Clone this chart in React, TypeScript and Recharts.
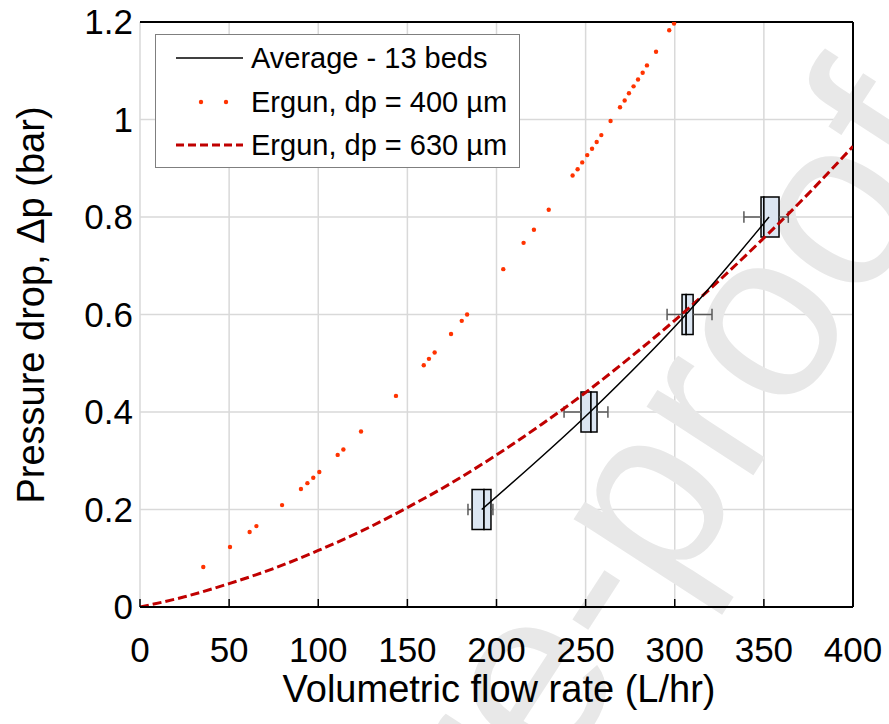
import React from 'react';
import {
  ComposedChart, Line, Scatter, XAxis, YAxis, CartesianGrid, ReferenceArea,
  ReferenceLine, Customized,
} from 'recharts';

const xTicks = [0, 50, 100, 150, 200, 250, 300, 350, 400];
const yTicks = [0, 0.2, 0.4, 0.6, 0.8, 1, 1.2];

// Average - 13 beds
const avgFlow = [191.7, 252.5, 306.3, 352.9];
const avgDp = [0.2, 0.4, 0.6, 0.8];

// Ergun, dp = 400 µm (dotted)
const e400Flow = [35.5, 50.5, 61.5, 65.3, 79.7, 90.3, 93.9, 97.2, 100.6, 110.9, 114.1, 124.0, 143.6, 159.2, 162.1, 165.3, 174.5, 180.5, 183.5, 203.8, 215.2, 221.0, 229.3, 242.7, 245.5, 248.1, 250.9, 253.6, 256.2, 258.8, 264.0, 269.3, 271.9, 274.3, 276.9, 279.4, 282.0, 284.4, 289.5, 296.9, 299.6];
const e400Dp = [0.082, 0.123, 0.154, 0.166, 0.209, 0.242, 0.254, 0.265, 0.277, 0.312, 0.323, 0.360, 0.433, 0.496, 0.509, 0.522, 0.560, 0.587, 0.600, 0.693, 0.747, 0.774, 0.815, 0.885, 0.898, 0.912, 0.927, 0.940, 0.954, 0.968, 0.997, 1.025, 1.039, 1.054, 1.068, 1.082, 1.096, 1.111, 1.139, 1.183, 1.197];

// Ergun, dp = 630 µm (dashed)
const e630Flow = [0, 25, 50, 75, 100, 125, 150, 175, 200, 225, 250, 275, 300, 325, 350, 375, 400];
const e630Dp = [0, 0.021, 0.048, 0.079, 0.116, 0.157, 0.204, 0.255, 0.312, 0.374, 0.44, 0.512, 0.588, 0.67, 0.757, 0.848, 0.945];

// Box-and-whisker of flow rate at each pressure drop
const boxDp = [0.2, 0.4, 0.6, 0.8];
const boxMin = [184.0, 237.9, 295.7, 338.8];
const boxQ1 = [186.3, 247.4, 304.1, 348.4];
const boxMed = [193.0, 253.0, 306.4, 350.0];
const boxQ3 = [196.9, 256.4, 310.3, 358.5];
const boxMax = [198.0, 262.5, 320.9, 363.7];
const boxHalf = 0.041;
const capHalf = 0.012;

const legendLabels = ['Average - 13 beds', 'Ergun, dp = 400 µm', 'Ergun, dp = 630 µm'];

const avgData = avgFlow.map((x, i) => ({ x, y: avgDp[i] }));
const e400Data = e400Flow.map((x, i) => ({ x, y: e400Dp[i] }));
const e630Data = e630Flow.map((x, i) => ({ x, y: e630Dp[i] }));

const FONT = 'Liberation Sans, Arial, sans-serif';
const DOT = '#ff3300';
const DASH = '#c00000';
const BOXFILL = '#dce6f2';
const WHISK = '#595959';

const LegendBox = () => (
  <div style={{
    position: 'absolute', left: 155, top: 34, width: 363, height: 132, border: '1.5px solid #7f7f7f', background: '#fff',
    fontFamily: FONT, fontSize: 29, color: '#000', boxSizing: 'content-box',
  }}>
    {legendLabels.map((label, i) => {
      const top = [23, 67, 110][i];
      return (
        <div key={i} style={{ position: 'absolute', left: 0, top: top - 22, height: 44, width: 363 }}>
          <svg width={92} height={44} style={{ position: 'absolute', left: 0, top: 0 }}>
            {i === 0 && <line x1={20} x2={87} y1={22} y2={22} stroke="#000" strokeWidth={1.5} />}
            {i === 1 && (<g><circle cx={45} cy={22} r={2.2} fill={DOT} /><circle cx={70} cy={22} r={2.2} fill={DOT} /></g>)}
            {i === 2 && <line x1={20} x2={87} y1={22} y2={22} stroke={DASH} strokeWidth={3} strokeDasharray="8 4" />}
          </svg>
          <div style={{ position: 'absolute', left: 95, top: 0, lineHeight: '44px', whiteSpace: 'nowrap' }}>{label}</div>
        </div>
      );
    })}
  </div>
);

const Titles = () => (
  <g fontFamily={FONT} fill="#000">
    <text x={499} y={702} fontSize={38} textAnchor="middle">Volumetric flow rate (L/hr)</text>
    <text x={44} y={305} fontSize={38} textAnchor="middle" transform="rotate(-90 44 305)">Pressure drop, Δp (bar)</text>
  </g>
);

const Watermark = () => (
  <text x={697} y={562} fontSize={240} fontFamily={FONT} fill="#e8e8e8" textAnchor="middle"
    transform="rotate(-57 697 562)">Pre-proof</text>
);

export default function App() {
  return (
    <div style={{ position: 'absolute', left: 0, top: 0, width: 889, height: 724, background: '#fff', overflow: 'hidden' }}>
      <ComposedChart width={889} height={724} margin={{ top: 22, right: 36, bottom: 0, left: 0 }}>
        <CartesianGrid stroke="#d9d9d9" strokeWidth={1.5} />
        <Customized component={Watermark} />
        <XAxis type="number" dataKey="x" domain={[0, 400]} ticks={xTicks} interval={0}
          height={117} allowDataOverflow
          axisLine={{ stroke: '#000', strokeWidth: 2 }}
          tickLine={{ stroke: '#000', strokeWidth: 1.5 }} tickSize={-8} tickMargin={38}
          tick={{ fill: '#000', fontSize: 35, fontFamily: FONT }} />
        <YAxis type="number" dataKey="y" domain={[0, 1.2]} ticks={yTicks} interval={0}
          width={140} allowDataOverflow axisLine={false} tickLine={false} tickSize={0} tickMargin={7}
          tick={{ fill: '#000', fontSize: 35, fontFamily: FONT }} />
        <ReferenceLine y={1.2} stroke="#000" strokeWidth={2} />
        <ReferenceLine x={400} stroke="#000" strokeWidth={2} />
        {boxDp.map((y, i) => (
          <React.Fragment key={'w' + i}>
            <ReferenceLine segment={[{ x: boxMin[i], y }, { x: boxQ1[i], y }]} stroke={WHISK} strokeWidth={1.5} />
            <ReferenceLine segment={[{ x: boxQ3[i], y }, { x: boxMax[i], y }]} stroke={WHISK} strokeWidth={1.5} />
            <ReferenceLine segment={[{ x: boxMin[i], y: y - capHalf }, { x: boxMin[i], y: y + capHalf }]} stroke={WHISK} strokeWidth={1.5} />
            <ReferenceLine segment={[{ x: boxMax[i], y: y - capHalf }, { x: boxMax[i], y: y + capHalf }]} stroke={WHISK} strokeWidth={1.5} />
            <ReferenceArea x1={boxQ1[i]} x2={boxMed[i]} y1={y - boxHalf} y2={y + boxHalf} fill={BOXFILL} fillOpacity={1} stroke="#000" strokeWidth={1.5} />
            <ReferenceArea x1={boxMed[i]} x2={boxQ3[i]} y1={y - boxHalf} y2={y + boxHalf} fill={BOXFILL} fillOpacity={1} stroke="#000" strokeWidth={1.5} />
          </React.Fragment>
        ))}
        <Line data={e630Data} dataKey="y" type="monotone" stroke={DASH} strokeWidth={3} strokeDasharray="9 4" dot={false} isAnimationActive={false} />
        <Line data={avgData} dataKey="y" type="monotone" stroke="#000" strokeWidth={1.5} dot={false} isAnimationActive={false} />
        <Scatter data={e400Data} dataKey="y" isAnimationActive={false}
          shape={(p: any) => <circle cx={p.cx} cy={p.cy} r={2.2} fill={DOT} />} />
        <Customized component={Titles} />
      </ComposedChart>
      <LegendBox />
    </div>
  );
}
